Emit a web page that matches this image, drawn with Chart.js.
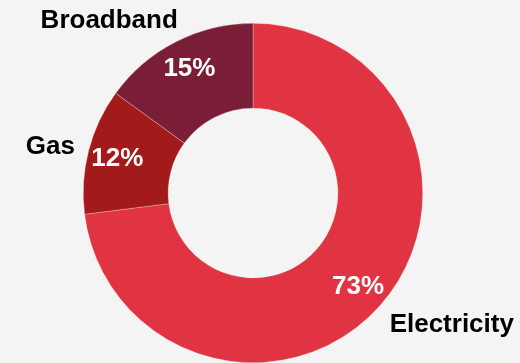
<!DOCTYPE html>
<html>
<head>
<meta charset="utf-8">
<script src="https://cdn.jsdelivr.net/npm/chart.js@4/dist/chart.umd.min.js"></script>
<style>
  html, body { margin: 0; padding: 0; background: #f4f4f4; }
  #wrap { width: 520px; height: 363px; position: relative; }
</style>
</head>
<body>
<div id="wrap"><canvas id="c"></canvas></div>
<script>
const categories = ["Electricity", "Gas", "Broadband"];
const shares = [73, 12, 15];
const colors = ["#e03442", "#a31a1a", "#7a1d36"];
// category label anchors, as multiples of the outer radius from the centre
const labelOffsets = [[1.171, 0.771], [-1.194, -0.276], [-0.847, -1.018]];

const FONT = 'bold 26px "Liberation Sans", Arial, sans-serif';

const labelPlugin = {
  id: 'sliceLabels',
  afterDatasetsDraw(chart) {
    const ctx = chart.ctx;
    const meta = chart.getDatasetMeta(0);
    const total = shares.reduce((a, b) => a + b, 0);
    ctx.save();
    ctx.font = FONT;
    ctx.textAlign = 'center';
    ctx.textBaseline = 'middle';
    meta.data.forEach((arc, i) => {
      const p = arc.getProps(['x', 'y', 'startAngle', 'endAngle', 'innerRadius', 'outerRadius'], true);
      const mid = (p.startAngle + p.endAngle) / 2;
      const r = p.innerRadius + (p.outerRadius - p.innerRadius) * 0.65;
      ctx.fillStyle = '#ffffff';
      ctx.fillText(Math.round(shares[i] / total * 100) + '%', p.x + Math.cos(mid) * r, p.y + Math.sin(mid) * r + 1);
      const off = labelOffsets[i];
      ctx.fillStyle = '#000000';
      ctx.fillText(categories[i], p.x + off[0] * p.outerRadius, p.y + off[1] * p.outerRadius + 1);
    });
    ctx.restore();
  }
};

new Chart(document.getElementById('c'), {
  type: 'doughnut',
  data: {
    labels: categories,
    datasets: [{
      data: shares,
      backgroundColor: colors,
      borderColor: 'rgba(244,244,244,0.6)',
      borderWidth: 0.5
    }]
  },
  options: {
    responsive: true,
    maintainAspectRatio: false,
    animation: false,
    cutout: '50%',
    layout: { padding: { top: 23, bottom: 0, left: 0, right: 14 } },
    plugins: { legend: { display: false }, tooltip: { enabled: false } }
  },
  plugins: [labelPlugin]
});
</script>
</body>
</html>
